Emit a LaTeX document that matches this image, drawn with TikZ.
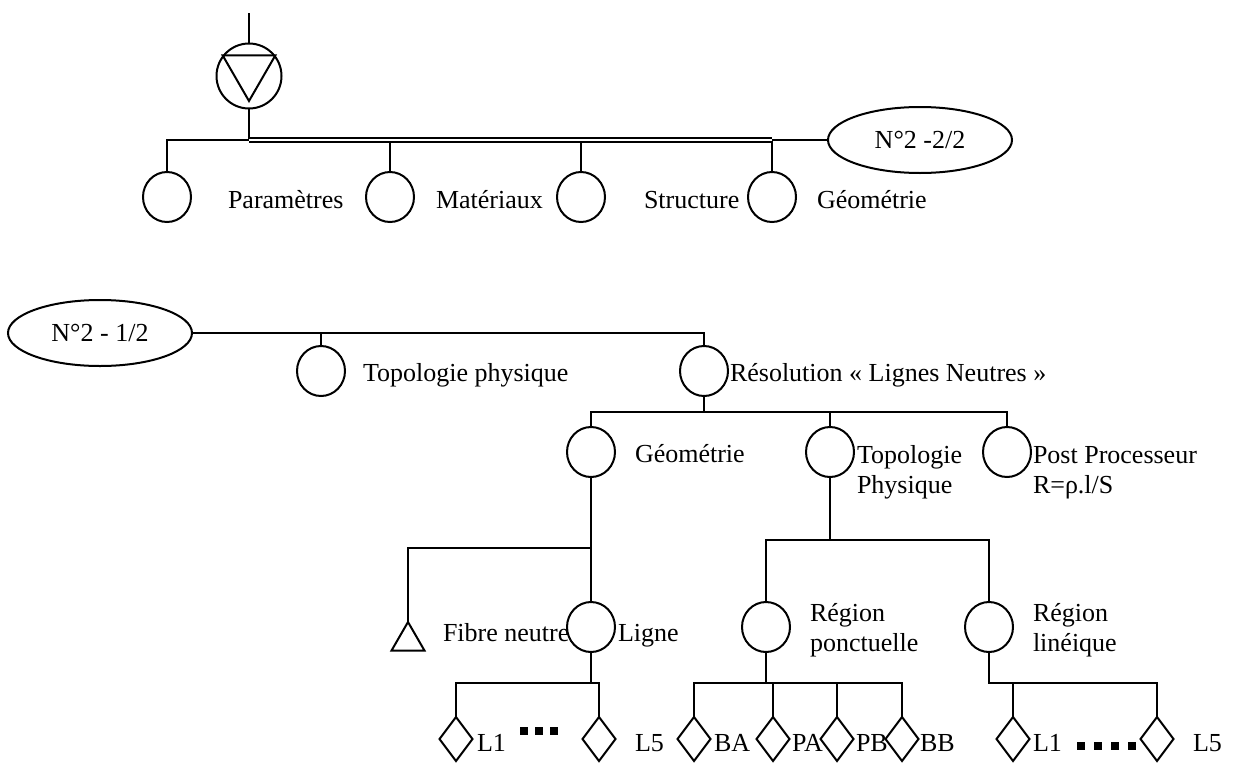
\documentclass[tikz,border=0pt]{standalone}
\usepackage{fontspec}
\setmainfont{Liberation Serif}
\usetikzlibrary{shapes.geometric}
\newcommand{\lblfont}{\fontsize{26}{29}\selectfont}
\begin{document}
\begin{tikzpicture}[x=1pt,y=-1pt,
  line width=2pt,
  every node/.style={inner sep=0pt, outer sep=0pt},
  circ/.style={draw, ellipse, minimum width=48pt, minimum height=50pt},
  oval/.style={draw, ellipse, minimum width=184pt, minimum height=66pt, font=\lblfont},
  dia/.style={draw, diamond, minimum width=33pt, minimum height=44pt},
  lab/.style={anchor=base west, font=\lblfont},
  sq/.style={fill=black, minimum size=8pt},
  bus/.style={double, double distance=2pt}
]
\useasboundingbox (0,0) rectangle (1233,763);

% ---------- top part ----------
\coordinate (top) at (249,13);
\node[draw, circle, minimum size=65pt] (pump) at (249,76) {};
\node[draw, regular polygon, regular polygon sides=3, shape border rotate=180, minimum size=61pt] (vtri) at (249,70.5) {};
\draw (top) -- (pump.north);

\coordinate (b0) at (249,140);
\coordinate (j1) at (167,140);
\coordinate (j2) at (390,140);
\coordinate (j3) at (581,140);
\coordinate (j4) at (772,140);

\node[circ] (c1) at (167,197) {};
\node[circ] (c2) at (390,197) {};
\node[circ] (c3) at (581,197) {};
\node[circ] (c4) at (772,197) {};
\node[oval] (e2) at (920,140) {N°2 -2/2};

\draw (pump.south) -- (b0) -- (j1) -- (c1.north);
\draw (j2) -- (c2.north);
\draw (j3) -- (c3.north);
\draw (j4) -- (c4.north);
\draw (j4) -- (e2.west);
\draw[bus] (b0) -- (j4);

\node[lab] (t1) at (228,208) {Paramètres};
\node[lab] (t2) at (436,208) {Matériaux};
\node[lab] (t3) at (644,208) {Structure};
\node[lab] (t4) at (817,208) {Géométrie};

% ---------- bottom part ----------
\node[oval] (e1) at (100,333) {N°2 - 1/2};
\node[circ] (topo) at (321,371) {};
\node[circ] (reso) at (704,371) {};
\coordinate (k1) at (321,333);
\coordinate (k2) at (704,333);
\draw (e1.east) -- (k2) -- (reso.north);
\draw (k1) -- (topo.north);
\node[lab] (ttopo) at (363,381) {Topologie physique};
\node[lab] (treso) at (730,381) {Résolution « Lignes Neutres »};

% row 2
\coordinate (m0) at (704,412);
\coordinate (m1) at (591,412);
\coordinate (m2) at (830,412);
\coordinate (m3) at (1007,412);
\node[circ] (geo) at (591,452) {};
\node[circ] (tp) at (830,452) {};
\node[circ] (pp) at (1007,452) {};
\draw (reso.south) -- (m0);
\draw (geo.north) -- (m1) -- (m3) -- (pp.north);
\draw (m2) -- (tp.north);
\node[lab] (tgeo) at (635,462) {Géométrie};
\node[lab] (ttp1) at (857,463) {Topologie};
\node[lab] (ttp2) at (857,493) {Physique};
\node[lab] (tpp1) at (1033,463) {Post Processeur};
\node[lab] (tpp2) at (1033,493) {R=ρ.l/S};

% row 3 (Géométrie)
\coordinate (f0) at (591,548);
\coordinate (f1) at (408,548);
\node[draw, regular polygon, regular polygon sides=3, minimum size=38pt] (fib) at (408,641) {};
\node[circ] (lig) at (591,627) {};
\draw (geo.south) -- (lig.north);
\draw (f0) -- (f1) -- (fib.corner 1);
\node[lab] (tfib) at (443,641) {Fibre neutre};
\node[lab] (tlig) at (618,641) {Ligne};

% row 3 (Topologie Physique)
\coordinate (g0) at (830,540);
\coordinate (g1) at (766,540);
\coordinate (g2) at (989,540);
\node[circ] (rp) at (766,627) {};
\node[circ] (rl) at (989,627) {};
\draw (tp.south) -- (g0);
\draw (rp.north) -- (g1) -- (g2) -- (rl.north);
\node[lab] (trp1) at (810,621) {Région};
\node[lab] (trp2) at (810,651) {ponctuelle};
\node[lab] (trl1) at (1033,621) {Région};
\node[lab] (trl2) at (1033,651) {linéique};

% row 4 (Ligne)
\coordinate (h0) at (591,683);
\coordinate (h1) at (456,683);
\coordinate (h2) at (599,683);
\node[dia] (dl1) at (456,739) {};
\node[dia] (dl5) at (599,739) {};
\draw (lig.south) -- (h0);
\draw (dl1.north) -- (h1) -- (h2) -- (dl5.north);
\node[lab] (tl1) at (477,751) {L1};
\node[lab] (tl5) at (635,751) {L5};
\node[sq] (s1) at (524,731) {};
\node[sq] (s2) at (539,731) {};
\node[sq] (s3) at (554,731) {};

% row 4 (Région ponctuelle)
\coordinate (p0) at (766,683);
\coordinate (q1) at (694,683);
\coordinate (q2) at (773,683);
\coordinate (q3) at (837,683);
\coordinate (q4) at (902,683);
\node[dia] (dba) at (694,739) {};
\node[dia] (dpa) at (773,739) {};
\node[dia] (dpb) at (837,739) {};
\node[dia] (dbb) at (902,739) {};
\draw (rp.south) -- (p0);
\draw (dba.north) -- (q1) -- (q4) -- (dbb.north);
\draw (q2) -- (dpa.north);
\draw (q3) -- (dpb.north);
\node[lab] (tba) at (714,751) {BA};
\node[lab] (tpa) at (792,751) {PA};
\node[lab] (tpb) at (856,751) {PB};
\node[lab] (tbb) at (920,751) {BB};

% row 4 (Région linéique)
\coordinate (r0) at (989,683);
\coordinate (r1) at (1013,683);
\coordinate (r2) at (1157,683);
\node[dia] (dm1) at (1013,739) {};
\node[dia] (dm5) at (1157,739) {};
\draw (rl.south) -- (r0) -- (r2) -- (dm5.north);
\draw (r1) -- (dm1.north);
\node[lab] (tm1) at (1033,751) {L1};
\node[lab] (tm5) at (1193,751) {L5};
\node[sq] (s4) at (1081,746) {};
\node[sq] (s5) at (1098,746) {};
\node[sq] (s6) at (1115,746) {};
\node[sq] (s7) at (1132,746) {};
\end{tikzpicture}
\end{document}
